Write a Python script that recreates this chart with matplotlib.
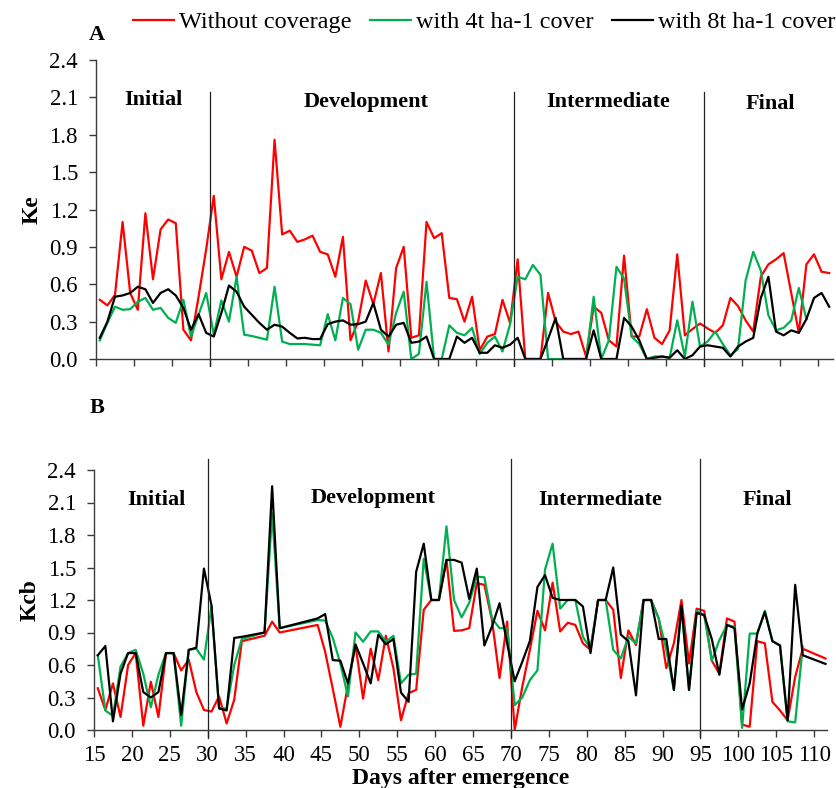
import matplotlib
matplotlib.use("Agg")
import matplotlib.pyplot as plt
import numpy as np

plt.rcParams['font.family'] = ['Liberation Serif', 'DejaVu Serif']

# ---------------- data ----------------
days_A = list(range(15, 112))
ke_without = [0.475, 0.43, 0.515, 1.10, 0.53, 0.395, 1.17, 0.64, 1.04, 1.12,
              1.09, 0.235, 0.15, 0.50, 0.88, 1.31, 0.64, 0.86, 0.66, 0.90,
              0.87, 0.69, 0.73, 1.76, 1.00, 1.03, 0.94, 0.96, 0.99, 0.86,
              0.84, 0.66, 0.98, 0.15, 0.30, 0.63, 0.44, 0.69, 0.06, 0.73,
              0.90, 0.17, 0.19, 1.10, 0.97, 1.01, 0.49, 0.48, 0.30, 0.50,
              0.07, 0.18, 0.20, 0.475, 0.29, 0.80, 0.0, 0.0, 0.0, 0.53,
              0.30, 0.22, 0.20, 0.22, 0.02, 0.42, 0.37, 0.15, 0.10, 0.83,
              0.18, 0.18, 0.40, 0.17, 0.12, 0.23, 0.84, 0.19, 0.24, 0.285,
              0.245, 0.21, 0.27, 0.49, 0.425, 0.31, 0.22, 0.66, 0.76, 0.80,
              0.85, 0.53, 0.21, 0.76, 0.84, 0.70, 0.69]
ke_4t = [0.15, 0.29, 0.42, 0.395, 0.40, 0.46, 0.49, 0.395, 0.41, 0.33,
         0.29, 0.475, 0.18, 0.355, 0.53, 0.195, 0.47, 0.30, 0.66, 0.195,
         0.185, 0.17, 0.155, 0.58, 0.14, 0.12, 0.12, 0.12, 0.115, 0.11,
         0.36, 0.15, 0.49, 0.44, 0.075, 0.235, 0.235, 0.21, 0.115, 0.37,
         0.54, 0.0, 0.04, 0.62, 0.0, 0.0, 0.27, 0.21, 0.19, 0.25,
         0.04, 0.13, 0.18, 0.06, 0.28, 0.66, 0.64, 0.755, 0.675, 0.0,
         0.0, 0.0, 0.0, 0.0, 0.0, 0.50, 0.0, 0.15, 0.74, 0.645,
         0.18, 0.12, 0.0, 0.02, 0.02, 0.01, 0.31, 0.02, 0.46, 0.10,
         0.14, 0.22, 0.12, 0.03, 0.08, 0.63, 0.86, 0.71, 0.35, 0.23,
         0.25, 0.31, 0.57, 0.32]
ke_8t = [0.17, 0.30, 0.50, 0.51, 0.53, 0.58, 0.56, 0.45, 0.53, 0.56,
         0.51, 0.41, 0.235, 0.36, 0.21, 0.18, 0.37, 0.59, 0.54, 0.42,
         0.355, 0.29, 0.235, 0.275, 0.26, 0.21, 0.165, 0.17, 0.16, 0.16,
         0.28, 0.30, 0.31, 0.275, 0.28, 0.30, 0.45, 0.235, 0.18, 0.275,
         0.29, 0.13, 0.14, 0.18, 0.0, 0.0, 0.0, 0.18, 0.13, 0.17,
         0.05, 0.05, 0.11, 0.09, 0.115, 0.17, 0.0, 0.0, 0.0, 0.16,
         0.33, 0.0, 0.0, 0.0, 0.0, 0.23, 0.0, 0.0, 0.0, 0.33,
         0.26, 0.15, 0.0, 0.01, 0.02, 0.01, 0.07, 0.0, 0.03, 0.10,
         0.11, 0.10, 0.09, 0.02, 0.10, 0.14, 0.17, 0.49, 0.66, 0.22,
         0.19, 0.23, 0.21, 0.32, 0.49, 0.53, 0.42]

days_B = list(range(15, 35)) + [37, 38, 39] + list(range(44, 109)) + [111]
kcb_without = [0.385, 0.185, 0.43, 0.12, 0.60, 0.71, 0.04, 0.445, 0.12, 0.71,
               0.71, 0.55, 0.65, 0.35, 0.185, 0.17, 0.31, 0.06, 0.28, 0.82,
               0.87, 1.00, 0.90,
               0.97, 0.72, 0.38, 0.03, 0.415, 0.785, 0.29, 0.75, 0.46, 0.87,
               0.57, 0.09, 0.34, 0.37, 1.11, 1.20, 1.20, 1.57, 0.915, 0.92,
               0.94, 1.355, 1.34, 1.015, 0.48, 1.00, 0.0, 0.40, 0.74, 1.10,
               0.92, 1.36, 0.91, 0.99, 0.97, 0.80, 0.74, 1.20, 1.20, 1.11,
               0.48, 0.92, 0.785, 1.20, 1.20, 1.03, 0.57, 0.80, 1.20, 0.615,
               1.12, 1.10, 0.64, 0.52, 1.03, 1.00, 0.05, 0.03, 0.82, 0.80,
               0.26, 0.18, 0.09, 0.49, 0.75,
               0.66]
kcb_4t = [0.69, 0.18, 0.13, 0.585, 0.71, 0.74, 0.52, 0.21, 0.51, 0.71,
          0.71, 0.04, 0.74, 0.75, 0.65, 1.14, 0.20, 0.20, 0.60, 0.84,
          0.90, 2.00, 0.94,
          1.015, 1.01, 0.85, 0.615, 0.31, 0.90, 0.815, 0.91, 0.91, 0.815,
          0.87, 0.43, 0.51, 0.52, 1.58, 1.20, 1.20, 1.88, 1.20, 1.04,
          1.175, 1.415, 1.41, 1.03, 0.94, 0.94, 0.23, 0.30, 0.46, 0.55,
          1.48, 1.72, 1.12, 1.20, 1.20, 0.86, 0.75, 1.20, 1.20, 0.74,
          0.66, 0.86, 0.80, 1.20, 1.20, 1.03, 0.74, 0.37, 1.13, 0.37,
          1.10, 1.06, 0.64, 0.83, 0.97, 0.95, 0.02, 0.89, 0.89, 1.10,
          0.82, 0.78, 0.08, 0.07, 0.77]
kcb_8t = [0.69, 0.775, 0.08, 0.52, 0.71, 0.71, 0.35, 0.30, 0.35, 0.71,
          0.71, 0.14, 0.74, 0.76, 1.49, 1.15, 0.20, 0.18, 0.85, 0.86,
          0.90, 2.25, 0.94,
          1.03, 1.07, 0.645, 0.64, 0.43, 0.79, 0.615, 0.43, 0.88, 0.79,
          0.84, 0.345, 0.26, 1.46, 1.72, 1.20, 1.20, 1.57, 1.57, 1.545,
          1.21, 1.49, 0.78, 0.955, 1.17, 0.80, 0.45, 0.63, 0.82, 1.32,
          1.43, 1.22, 1.20, 1.20, 1.20, 1.14, 0.71, 1.20, 1.20, 1.50,
          0.88, 0.82, 0.32, 1.20, 1.20, 0.84, 0.84, 0.37, 1.15, 0.37,
          1.08, 1.06, 0.84, 0.51, 0.97, 0.94, 0.19, 0.43, 0.89, 1.09,
          0.82, 0.78, 0.09, 1.34, 0.69,
          0.61]

series_labels = ["Without coverage", "with 4t ha-1 cover", "with 8t ha-1 cover"]
colors = ["#FF0000", "#00B050", "#000000"]
tick_days = list(range(15, 111, 5))
y_ticks = [0.0, 0.3, 0.6, 0.9, 1.2, 1.5, 1.8, 2.1, 2.4]
phase_bounds = [30, 70, 95]
phase_names = ["Initial", "Development", "Intermediate", "Final"]

# ---------------- figure ----------------
W, H = 837, 788
fig = plt.figure(figsize=(W / 100, H / 100), dpi=100)
axA = fig.add_axes([96 / W, 1 - 359 / H, (833 - 96) / W, 299 / H])
axB = fig.add_axes([94 / W, 1 - 730 / H, (827 - 94) / W, 260 / H])

lw = 1.6
handles = []
for vals, c in zip([ke_without, ke_4t, ke_8t], colors):
    h, = axA.plot(days_A[:len(vals)], vals, color=c, lw=lw)
    handles.append(h)
for vals, c in zip([kcb_without, kcb_4t, kcb_8t], colors):
    axB.plot(days_B[:len(vals)], vals, color=c, lw=lw)

spine_c = "#3a3a3a"
for ax, xr, vtop, vbot in [(axA, 111.5, 2.14, -0.06), (axB, 111.2, 2.50, -0.07)]:
    ax.set_xlim(14.5, xr)
    ax.set_ylim(0, 2.4)
    ax.set_yticks(y_ticks)
    ax.set_yticklabels([f"{v:.1f}" for v in y_ticks])
    ax.set_xticks([t - 0.5 for t in tick_days])
    for s in ["top", "right"]:
        ax.spines[s].set_visible(False)
    for s in ["left", "bottom"]:
        ax.spines[s].set_color(spine_c)
        ax.spines[s].set_linewidth(1.0)
    ax.tick_params(direction="out", length=5, width=1.0, color=spine_c,
                   labelsize=16.5)
    ax.tick_params(axis="y", pad=8)
    ax.tick_params(axis="x", pad=6)
    for b in phase_bounds:
        ax.plot([b - 0.5, b - 0.5], [vbot, vtop], color="#222222", lw=0.9,
                clip_on=False)

axA.set_xticklabels([])
axB.set_xticklabels([str(t) for t in tick_days])

# phase labels
for name, x, y in zip(phase_names, [22.0, 50.1, 81.9, 103.3], [2.08, 2.06, 2.06, 2.05]):
    axA.text(x, y, name, ha="center", va="center", fontsize=16, fontweight="bold")
for name, x, y in zip(phase_names, [22.7, 51.3, 81.3, 103.3], [2.12, 2.14, 2.12, 2.12]):
    axB.text(x, y, name, ha="center", va="center", fontsize=16, fontweight="bold")

axA.set_ylabel("Ke", fontsize=17, fontweight="bold", labelpad=5)
axB.set_ylabel("Kcb", fontsize=17, fontweight="bold", labelpad=5)
axB.set_xlabel("Days after emergence", fontsize=17, fontweight="bold", labelpad=1)

fig.text(97 / W, 1 - 35 / H, "A", fontsize=16, fontweight="bold", ha="center", va="center")
fig.text(97 / W, 1 - 408 / H, "B", fontsize=16, fontweight="bold", ha="center", va="center")

fig.legend(handles, series_labels, loc="center left", bbox_to_anchor=(133 / W, 1 - 22 / H),
           ncol=3, frameon=False, fontsize=17.5, handlelength=1.7, handletextpad=0.2,
           columnspacing=0.75, borderpad=0, borderaxespad=0)

fig.savefig("out.png", dpi=100)
